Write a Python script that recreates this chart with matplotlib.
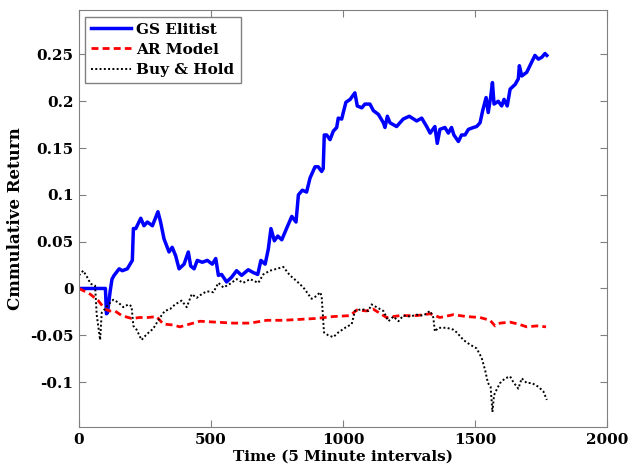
import matplotlib
matplotlib.use("Agg")
import matplotlib.pyplot as plt

# GS Elitist
gs_t = [0, 100, 104, 108, 118, 125, 133, 152, 164, 183, 202, 206, 215, 234, 246, 259, 278,
        299, 309, 322, 341, 353, 366, 379, 398, 414, 423, 436, 448, 467, 486, 505, 518, 528,
        540, 559, 578, 597, 616, 641, 660, 677, 689, 705, 717, 727, 740, 753, 768, 786, 806,
        822, 831, 846, 862, 875, 894, 906, 919, 925, 929, 938, 951, 963, 976, 982, 995, 1001,
        1011, 1027, 1045, 1054, 1071, 1083, 1102, 1115, 1134, 1153, 1159, 1168, 1178, 1203,
        1228, 1251, 1279, 1298, 1317, 1330, 1348, 1357, 1367, 1386, 1399, 1411, 1420, 1437,
        1449, 1462, 1475, 1494, 1506, 1519, 1529, 1542, 1550, 1559, 1566, 1572, 1588, 1601,
        1610, 1622, 1633, 1652, 1664, 1668, 1677, 1696, 1708, 1727, 1740, 1753, 1765, 1772]
gs_v = [0.0, 0.0, -0.027, -0.026, -0.003, 0.010, 0.014, 0.021, 0.019, 0.021, 0.030, 0.064,
        0.064, 0.075, 0.067, 0.071, 0.067, 0.082, 0.071, 0.053, 0.039, 0.044, 0.035, 0.021,
        0.026, 0.039, 0.024, 0.021, 0.030, 0.028, 0.030, 0.026, 0.032, 0.014, 0.015, 0.007,
        0.012, 0.019, 0.014, 0.020, 0.017, 0.015, 0.030, 0.026, 0.042, 0.064, 0.051, 0.056,
        0.052, 0.064, 0.077, 0.071, 0.100, 0.105, 0.103, 0.118, 0.130, 0.130, 0.125, 0.128,
        0.164, 0.164, 0.159, 0.168, 0.172, 0.182, 0.181, 0.188, 0.199, 0.202, 0.209, 0.195,
        0.193, 0.197, 0.197, 0.190, 0.186, 0.177, 0.172, 0.184, 0.177, 0.173, 0.181, 0.184,
        0.179, 0.182, 0.173, 0.166, 0.173, 0.155, 0.170, 0.172, 0.166, 0.172, 0.164, 0.157,
        0.164, 0.164, 0.170, 0.172, 0.173, 0.177, 0.190, 0.204, 0.188, 0.204, 0.220, 0.197,
        0.200, 0.195, 0.202, 0.195, 0.213, 0.218, 0.224, 0.238, 0.227, 0.231, 0.238, 0.249,
        0.245, 0.247, 0.251, 0.249]

# AR Model
ar_t = [0, 42, 73, 98, 117, 136, 162, 199, 231, 262, 294, 319, 357, 382, 420, 458, 521, 584,
        648, 711, 774, 837, 900, 963, 1027, 1052, 1089, 1114, 1165, 1216, 1279, 1330, 1367,
        1418, 1468, 1519, 1557, 1576, 1595, 1633, 1664, 1696, 1734, 1769]
ar_v = [0.0, -0.006, -0.013, -0.022, -0.024, -0.024, -0.029, -0.032, -0.031, -0.031, -0.030,
        -0.038, -0.039, -0.041, -0.038, -0.035, -0.036, -0.037, -0.037, -0.034, -0.034, -0.033,
        -0.032, -0.030, -0.029, -0.023, -0.024, -0.022, -0.031, -0.029, -0.029, -0.027, -0.031,
        -0.028, -0.030, -0.031, -0.034, -0.040, -0.037, -0.036, -0.038, -0.041, -0.040, -0.041]

# Buy & Hold
bh_t = [0, 16, 31, 44, 61, 67, 80, 86, 98, 111, 130, 149, 168, 187, 199, 206, 218, 237, 256,
        281, 307, 325, 345, 364, 389, 408, 427, 446, 465, 484, 509, 528, 547, 572, 597, 622,
        648, 679, 698, 723, 749, 774, 799, 824, 850, 881, 900, 913, 919, 928, 944, 963, 982,
        1008, 1033, 1045, 1071, 1096, 1108, 1127, 1153, 1172, 1191, 1210, 1228, 1254, 1279,
        1304, 1330, 1342, 1348, 1361, 1393, 1418, 1431, 1456, 1481, 1506, 1525, 1538, 1549,
        1559, 1566, 1572, 1582, 1595, 1614, 1633, 1645, 1664, 1677, 1696, 1715, 1740, 1759, 1772]
bh_v = [0.014, 0.019, 0.012, 0.005, 0.003, -0.028, -0.055, -0.026, -0.022, -0.017, -0.012,
        -0.015, -0.020, -0.017, -0.019, -0.040, -0.044, -0.055, -0.049, -0.043, -0.031, -0.024,
        -0.022, -0.017, -0.013, -0.020, -0.006, -0.010, -0.006, -0.003, -0.004, 0.006, 0.001,
        0.005, 0.010, 0.006, 0.010, 0.006, 0.015, 0.019, 0.021, 0.023, 0.014, 0.008, 0.001,
        -0.011, -0.008, -0.004, -0.008, -0.047, -0.050, -0.052, -0.047, -0.042, -0.038, -0.024,
        -0.022, -0.024, -0.017, -0.020, -0.024, -0.035, -0.030, -0.035, -0.029, -0.030, -0.028,
        -0.029, -0.024, -0.031, -0.046, -0.042, -0.042, -0.044, -0.047, -0.055, -0.060, -0.064,
        -0.074, -0.087, -0.101, -0.105, -0.132, -0.114, -0.108, -0.101, -0.096, -0.094, -0.100,
        -0.107, -0.096, -0.101, -0.101, -0.105, -0.110, -0.119]

x_ticks = [0, 500, 1000, 1500, 2000]
y_ticks = [-0.1, -0.05, 0, 0.05, 0.1, 0.15, 0.2, 0.25]
y_labels = ["-0.1", "-0.05", "0", "0.05", "0.1", "0.15", "0.2", "0.25"]

plt.rcParams["font.family"] = ["DejaVu Serif"]
plt.rcParams["font.weight"] = "bold"

fig = plt.figure(figsize=(6.31, 4.68), dpi=100)
ax = fig.add_axes([0.1252, 0.0876, 0.8368, 0.89])

ax.plot(gs_t, gs_v, "-", color="#0000ff", linewidth=2.5, label="GS Elitist")
ax.plot(ar_t, ar_v, "--", color="#ff0000", linewidth=2, dashes=(2.5, 1.5), label="AR Model")
ax.plot(bh_t, bh_v, ":", color="black", linewidth=1.4, dashes=(1, 1.2), label="Buy & Hold")

ax.set_xlim(0, 2000)
ax.set_ylim(-0.148, 0.297)
ax.set_xticks(x_ticks)
ax.set_yticks(y_ticks)
ax.set_yticklabels(y_labels)
ax.tick_params(direction="in", length=5, top=True, right=True, color="#808080",
               labelsize=11, pad=4)
for s in ax.spines.values():
    s.set_color("#808080")

ax.set_xlabel("Time (5 Minute intervals)", fontsize=11, fontweight="bold", labelpad=2)
ax.set_ylabel("Cmmulative Return", fontsize=12, fontweight="bold", labelpad=4)

leg = ax.legend(loc="upper left", fontsize=11, fancybox=False, framealpha=1,
                edgecolor="#808080", handlelength=2.6, handletextpad=0.35,
                borderpad=0.4, labelspacing=0.4, borderaxespad=0.4)
leg.get_frame().set_linewidth(1)

fig.savefig("out.png", dpi=100)
